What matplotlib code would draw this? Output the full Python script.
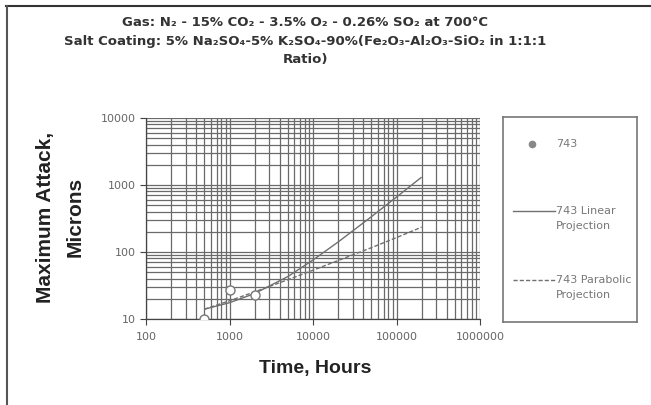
import matplotlib
matplotlib.use("Agg")
import matplotlib.pyplot as plt
from matplotlib.lines import Line2D
from matplotlib.ticker import LogLocator, FixedLocator, NullFormatter

plt.rcParams['font.family'] = ['DejaVu Sans']

# Data
data_hours = [500, 1000, 2000]
data_attack = [10, 27, 22.5]

proj_hours = [500, 1000, 2000, 5000, 10000, 20000, 50000, 100000, 200000]
linear_attack = [14, 17.5, 24, 43, 76, 141, 336, 661, 1310]
parabolic_attack = [14, 18.7, 25.4, 38.6, 53.5, 74.6, 116, 164, 235]

x_ticks = [100, 1000, 10000, 100000, 1000000]
x_ticklabels = ["100", "1000", "10000", "100000", "1000000"]
y_ticks = [10, 100, 1000, 10000]
y_ticklabels = ["10", "100", "1000", "10000"]

title_lines = [
    "Gas: N₂ - 15% CO₂ - 3.5% O₂ - 0.26% SO₂ at 700°C",
    "Salt Coating: 5% Na₂SO₄-5% K₂SO₄-90%(Fe₂O₃-Al₂O₃-SiO₂ in 1:1:1",
    "Ratio)",
]
legend_labels = [["743"], ["743 Linear", "Projection"], ["743 Parabolic", "Projection"]]

W, H = 651, 405
fig = plt.figure(figsize=(W / 100, H / 100), dpi=100)
ax = fig.add_axes([146 / W, (H - 319) / H, (480 - 146) / W, (319 - 118) / H])
ax.set_xscale('log')
ax.set_yscale('log')
ax.set_xlim(100, 1000000)
ax.set_ylim(10, 10000)

grid_c = '#6a6a6a'
ax.xaxis.set_major_locator(FixedLocator(x_ticks))
ax.yaxis.set_major_locator(FixedLocator(y_ticks))
ax.xaxis.set_minor_locator(LogLocator(base=10, subs=range(2, 10), numticks=20))
ax.yaxis.set_minor_locator(LogLocator(base=10, subs=range(2, 10), numticks=20))
ax.xaxis.set_minor_formatter(NullFormatter())
ax.yaxis.set_minor_formatter(NullFormatter())
ax.set_xticklabels(x_ticklabels)
ax.set_yticklabels(y_ticklabels)
ax.grid(True, which='both', color=grid_c, linewidth=0.9)
ax.set_axisbelow(True)
ax.tick_params(which='major', direction='out', length=4, width=0.8, color='#444',
               labelsize=8, labelcolor='#666', pad=3)
ax.tick_params(axis='x', which='major', pad=5)
ax.tick_params(which='minor', length=0)
for s in ['top', 'right']:
    ax.spines[s].set_visible(False)
for s in ['left', 'bottom']:
    ax.spines[s].set_color('#444')
    ax.spines[s].set_linewidth(0.9)

line_c = '#707070'
ax.plot(proj_hours, linear_attack, color=line_c, lw=1.0, solid_capstyle='butt')
ax.plot(proj_hours, parabolic_attack, color=line_c, lw=1.0, ls=(0, (3, 1.5)))
ax.plot(data_hours, data_attack, ls='none', marker='o', ms=6.5, mfc='white',
        mec='#777', mew=1.0, zorder=5)

lab_font = ['Liberation Sans', 'DejaVu Sans']
fig.text(315 / W, 1 - 369 / H, "Time, Hours", ha='center', va='center',
         fontsize=14, fontweight='bold', color='#222', family=lab_font)
fig.text(45 / W, 1 - 217 / H, "Maximum Attack,", rotation=90, ha='center', va='center',
         fontsize=15, fontweight='bold', color='#222', family=lab_font)
fig.text(75 / W, 1 - 217 / H, "Microns", rotation=90, ha='center', va='center',
         fontsize=15, fontweight='bold', color='#222', family=lab_font)

ys = [23, 42, 60]
for t, y in zip(title_lines, ys):
    fig.text(305 / W, 1 - y / H, t, ha='center', va='center', fontsize=9.5,
             fontweight='bold', color='#333')

# Legend
lx0, lx1, ly0, ly1 = 503, 637, 117, 322
leg_ax = fig.add_axes([lx0 / W, (H - ly1) / H, (lx1 - lx0) / W, (ly1 - ly0) / H])
leg_ax.set_xlim(lx0, lx1)
leg_ax.set_ylim(ly1, ly0)
leg_ax.set_xticks([])
leg_ax.set_yticks([])
for s in leg_ax.spines.values():
    s.set_color('#777')
    s.set_linewidth(1.2)
entry_y = [144, 211, 280]
styles = [None, '-', (0, (3, 1.5))]
for lines, y, st in zip(legend_labels, entry_y, styles):
    if st is None:
        leg_ax.plot([532], [y], ls='none', marker='o', ms=4.5, mfc='#888', mec='#888')
    else:
        leg_ax.plot([513, 555], [y, y], color=line_c, lw=1.0, ls=st)
    for i, txt in enumerate(lines):
        leg_ax.text(556, y + 15 * i, txt, va='center', ha='left', fontsize=8,
                    color='#777')

# Figure border (top and left)
fig.add_artist(Line2D([6 / W, 1], [1 - 6 / H, 1 - 6 / H], color='#333', lw=1.5,
                      transform=fig.transFigure))
fig.add_artist(Line2D([6.5 / W, 6.5 / W], [0, 1 - 6 / H], color='#555', lw=1.5,
                      transform=fig.transFigure))

fig.savefig("out.png", dpi=100)
